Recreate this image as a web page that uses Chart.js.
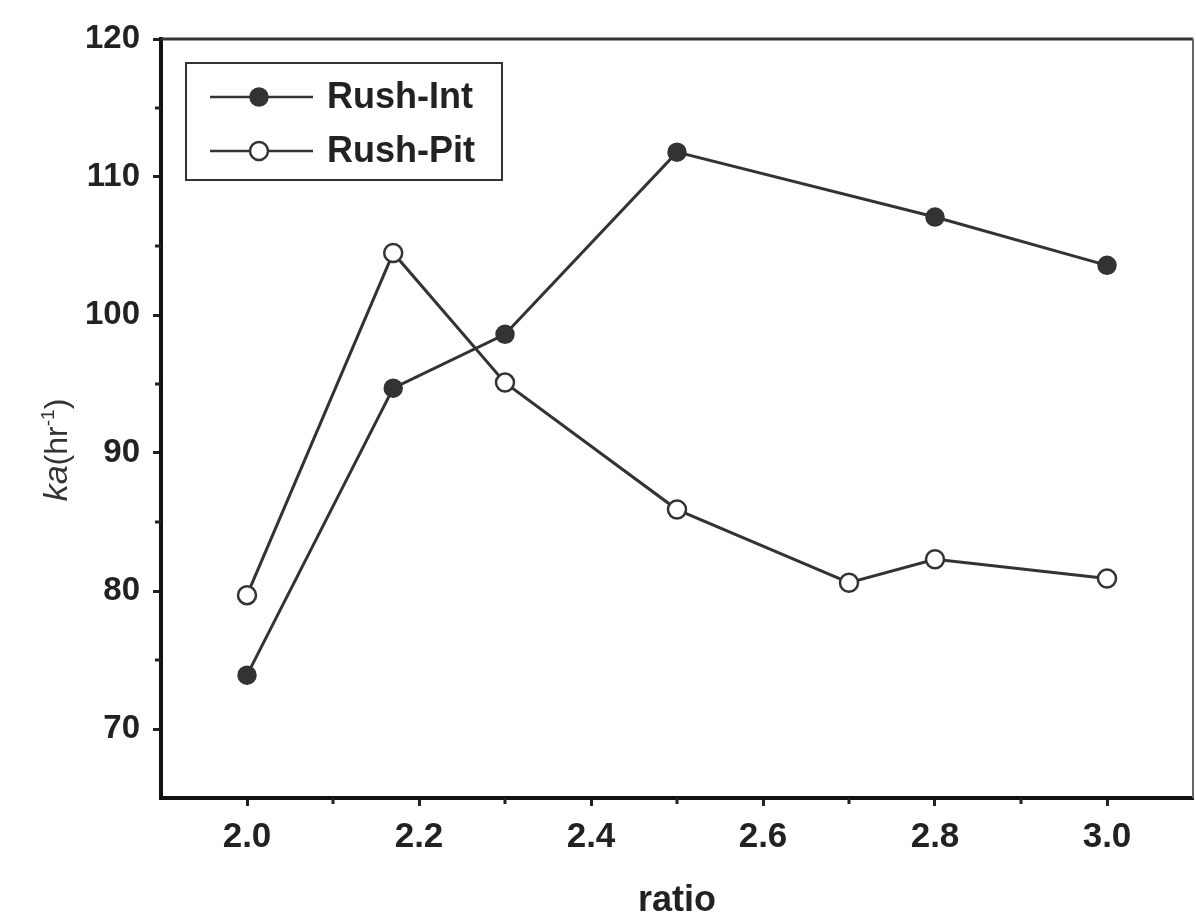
<!DOCTYPE html>
<html>
<head>
<meta charset="utf-8">
<script src="https://cdn.jsdelivr.net/npm/chart.js@4/dist/chart.umd.min.js"></script>
<style>
  html, body { margin: 0; padding: 0; background: #fff; }
  canvas { display: block; }
</style>
</head>
<body>
<canvas id="chart" width="1196" height="917"></canvas>
<script>
// Series: ka (hr^-1) against ratio
const seriesNames = ['Rush-Int', 'Rush-Pit'];
const ratioInt = [2.0, 2.17, 2.3, 2.5, 2.8, 3.0];
const kaInt    = [73.9, 94.7, 98.6, 111.8, 107.1, 103.6];
const ratioPit = [2.0, 2.17, 2.3, 2.5, 2.7, 2.8, 3.0];
const kaPit    = [79.7, 104.5, 95.1, 85.9, 80.6, 82.3, 80.9];

// Axis ticks
const xMajorTicks = [2.0, 2.2, 2.4, 2.6, 2.8, 3.0];
const xMinorTicks = [2.1, 2.3, 2.5, 2.7, 2.9];
const yMajorTicks = [70, 80, 90, 100, 110, 120];
const yMinorTicks = [75, 85, 95, 105, 115];
const xTitle = 'ratio';

const FONT = '"Liberation Sans", Arial, Helvetica, sans-serif';
const INK = '#222';

function toPoints(xs, ys) { return xs.map((x, i) => ({ x: x, y: ys[i] })); }

// Minor ticks, top/right frame, axis titles
const framePlugin = {
  id: 'frame',
  afterDraw(chart) {
    const { ctx, chartArea: a, scales } = chart;
    ctx.save();
    // top and right frame lines
    ctx.strokeStyle = '#333';
    ctx.lineWidth = 3;
    ctx.beginPath();
    ctx.moveTo(a.left, a.top);
    ctx.lineTo(a.right, a.top);
    ctx.stroke();
    ctx.strokeStyle = '#666';
    ctx.lineWidth = 2;
    ctx.beginPath();
    ctx.moveTo(a.right, a.top);
    ctx.lineTo(a.right, a.bottom);
    ctx.stroke();

    // minor ticks
    ctx.strokeStyle = INK;
    ctx.lineWidth = 3;
    ctx.beginPath();
    xMinorTicks.forEach(v => {
      const px = scales.x.getPixelForValue(v);
      ctx.moveTo(px, a.bottom);
      ctx.lineTo(px, a.bottom + 6);
    });
    yMinorTicks.forEach(v => {
      const py = scales.y.getPixelForValue(v);
      ctx.moveTo(a.left, py);
      ctx.lineTo(a.left - 6, py);
    });
    ctx.stroke();

    // x title
    ctx.fillStyle = INK;
    ctx.font = 'bold 36px ' + FONT;
    ctx.textAlign = 'center';
    ctx.textBaseline = 'alphabetic';
    ctx.fillText(xTitle, (a.left + a.right) / 2, 911);

    // y title: ka(hr^-1), rotated
    const parts = [
      { t: 'ka', f: 'italic 34px ' + FONT, dy: 0 },
      { t: '(hr', f: '32px ' + FONT, dy: 0 },
      { t: '-1', f: '19px ' + FONT, dy: -13 },
      { t: ')', f: '32px ' + FONT, dy: 0 }
    ];
    let total = 0;
    parts.forEach(p => { ctx.font = p.f; p.w = ctx.measureText(p.t).width; total += p.w; });
    ctx.translate(67, 450);
    ctx.rotate(-Math.PI / 2);
    ctx.textAlign = 'left';
    ctx.fillStyle = '#333';
    let cx = -total / 2;
    parts.forEach(p => {
      ctx.font = p.f;
      ctx.fillText(p.t, cx, p.dy);
      cx += p.w;
    });
    ctx.restore();
  }
};

// Boxed legend: line sample with marker, then label
const boxLegendPlugin = {
  id: 'boxLegend',
  afterDraw(chart) {
    const { ctx } = chart;
    const box = { left: 186, top: 63, right: 502, bottom: 180 };
    ctx.save();
    ctx.strokeStyle = '#333';
    ctx.lineWidth = 2;
    ctx.strokeRect(box.left, box.top, box.right - box.left, box.bottom - box.top);
    const rows = [97, 151];
    chart.data.datasets.forEach((ds, i) => {
      const y = rows[i];
      ctx.strokeStyle = ds.borderColor;
      ctx.lineWidth = 2.5;
      ctx.beginPath();
      ctx.moveTo(210, y);
      ctx.lineTo(313, y);
      ctx.stroke();
      ctx.beginPath();
      ctx.arc(259, y, ds.pointRadius, 0, Math.PI * 2);
      ctx.fillStyle = ds.pointBackgroundColor;
      ctx.fill();
      ctx.lineWidth = ds.pointBorderWidth;
      ctx.strokeStyle = ds.pointBorderColor;
      ctx.stroke();
      ctx.fillStyle = INK;
      ctx.font = 'bold 36px ' + FONT;
      ctx.textAlign = 'left';
      ctx.textBaseline = 'middle';
      ctx.fillText(ds.label, 327, y + 1);
    });
    ctx.restore();
  }
};

new Chart(document.getElementById('chart'), {
  type: 'scatter',
  data: {
    datasets: [
      {
        label: seriesNames[0],
        data: toPoints(ratioInt, kaInt),
        showLine: true,
        borderColor: '#333',
        borderWidth: 3,
        pointRadius: 9,
        pointBackgroundColor: '#333',
        pointBorderColor: '#333',
        pointBorderWidth: 1.5
      },
      {
        label: seriesNames[1],
        data: toPoints(ratioPit, kaPit),
        showLine: true,
        borderColor: '#333',
        borderWidth: 3,
        pointRadius: 9,
        pointBackgroundColor: '#fff',
        pointBorderColor: '#333',
        pointBorderWidth: 2.5
      }
    ]
  },
  options: {
    responsive: false,
    animation: false,
    layout: { autoPadding: false, padding: { top: 39, right: 3, left: 0, bottom: 0 } },
    plugins: {
      legend: { display: false },
      tooltip: { enabled: false },
      title: { display: false }
    },
    scales: {
      x: {
        type: 'linear',
        min: 1.9,
        max: 3.1,
        afterBuildTicks(scale) { scale.ticks = xMajorTicks.map(v => ({ value: v })); },
        afterFit(scale) {
          scale.height = 119;
          scale.paddingLeft = 0;
          scale.paddingRight = 0;
        },
        ticks: {
          autoSkip: false,
          maxRotation: 0,
          padding: 10,
          color: INK,
          font: { family: FONT, size: 35, weight: 'bold' },
          callback: v => Number(v).toFixed(1)
        },
        grid: {
          display: true,
          drawOnChartArea: false,
          drawTicks: true,
          tickLength: 8,
          tickWidth: 3,
          tickColor: INK
        },
        border: { display: true, color: '#111', width: 4 }
      },
      y: {
        type: 'linear',
        min: 65,
        max: 120,
        afterBuildTicks(scale) { scale.ticks = yMajorTicks.map(v => ({ value: v })); },
        afterFit(scale) {
          scale.width = 161;
          scale.paddingTop = 0;
          scale.paddingBottom = 0;
        },
        ticks: {
          autoSkip: false,
          padding: 13,
          color: INK,
          font: { family: FONT, size: 33, weight: 'bold' },
          callback: v => String(v)
        },
        grid: {
          display: true,
          drawOnChartArea: false,
          drawTicks: true,
          tickLength: 8,
          tickWidth: 3,
          tickColor: INK
        },
        border: { display: true, color: '#111', width: 4 }
      }
    }
  },
  plugins: [framePlugin, boxLegendPlugin]
});
</script>
</body>
</html>
